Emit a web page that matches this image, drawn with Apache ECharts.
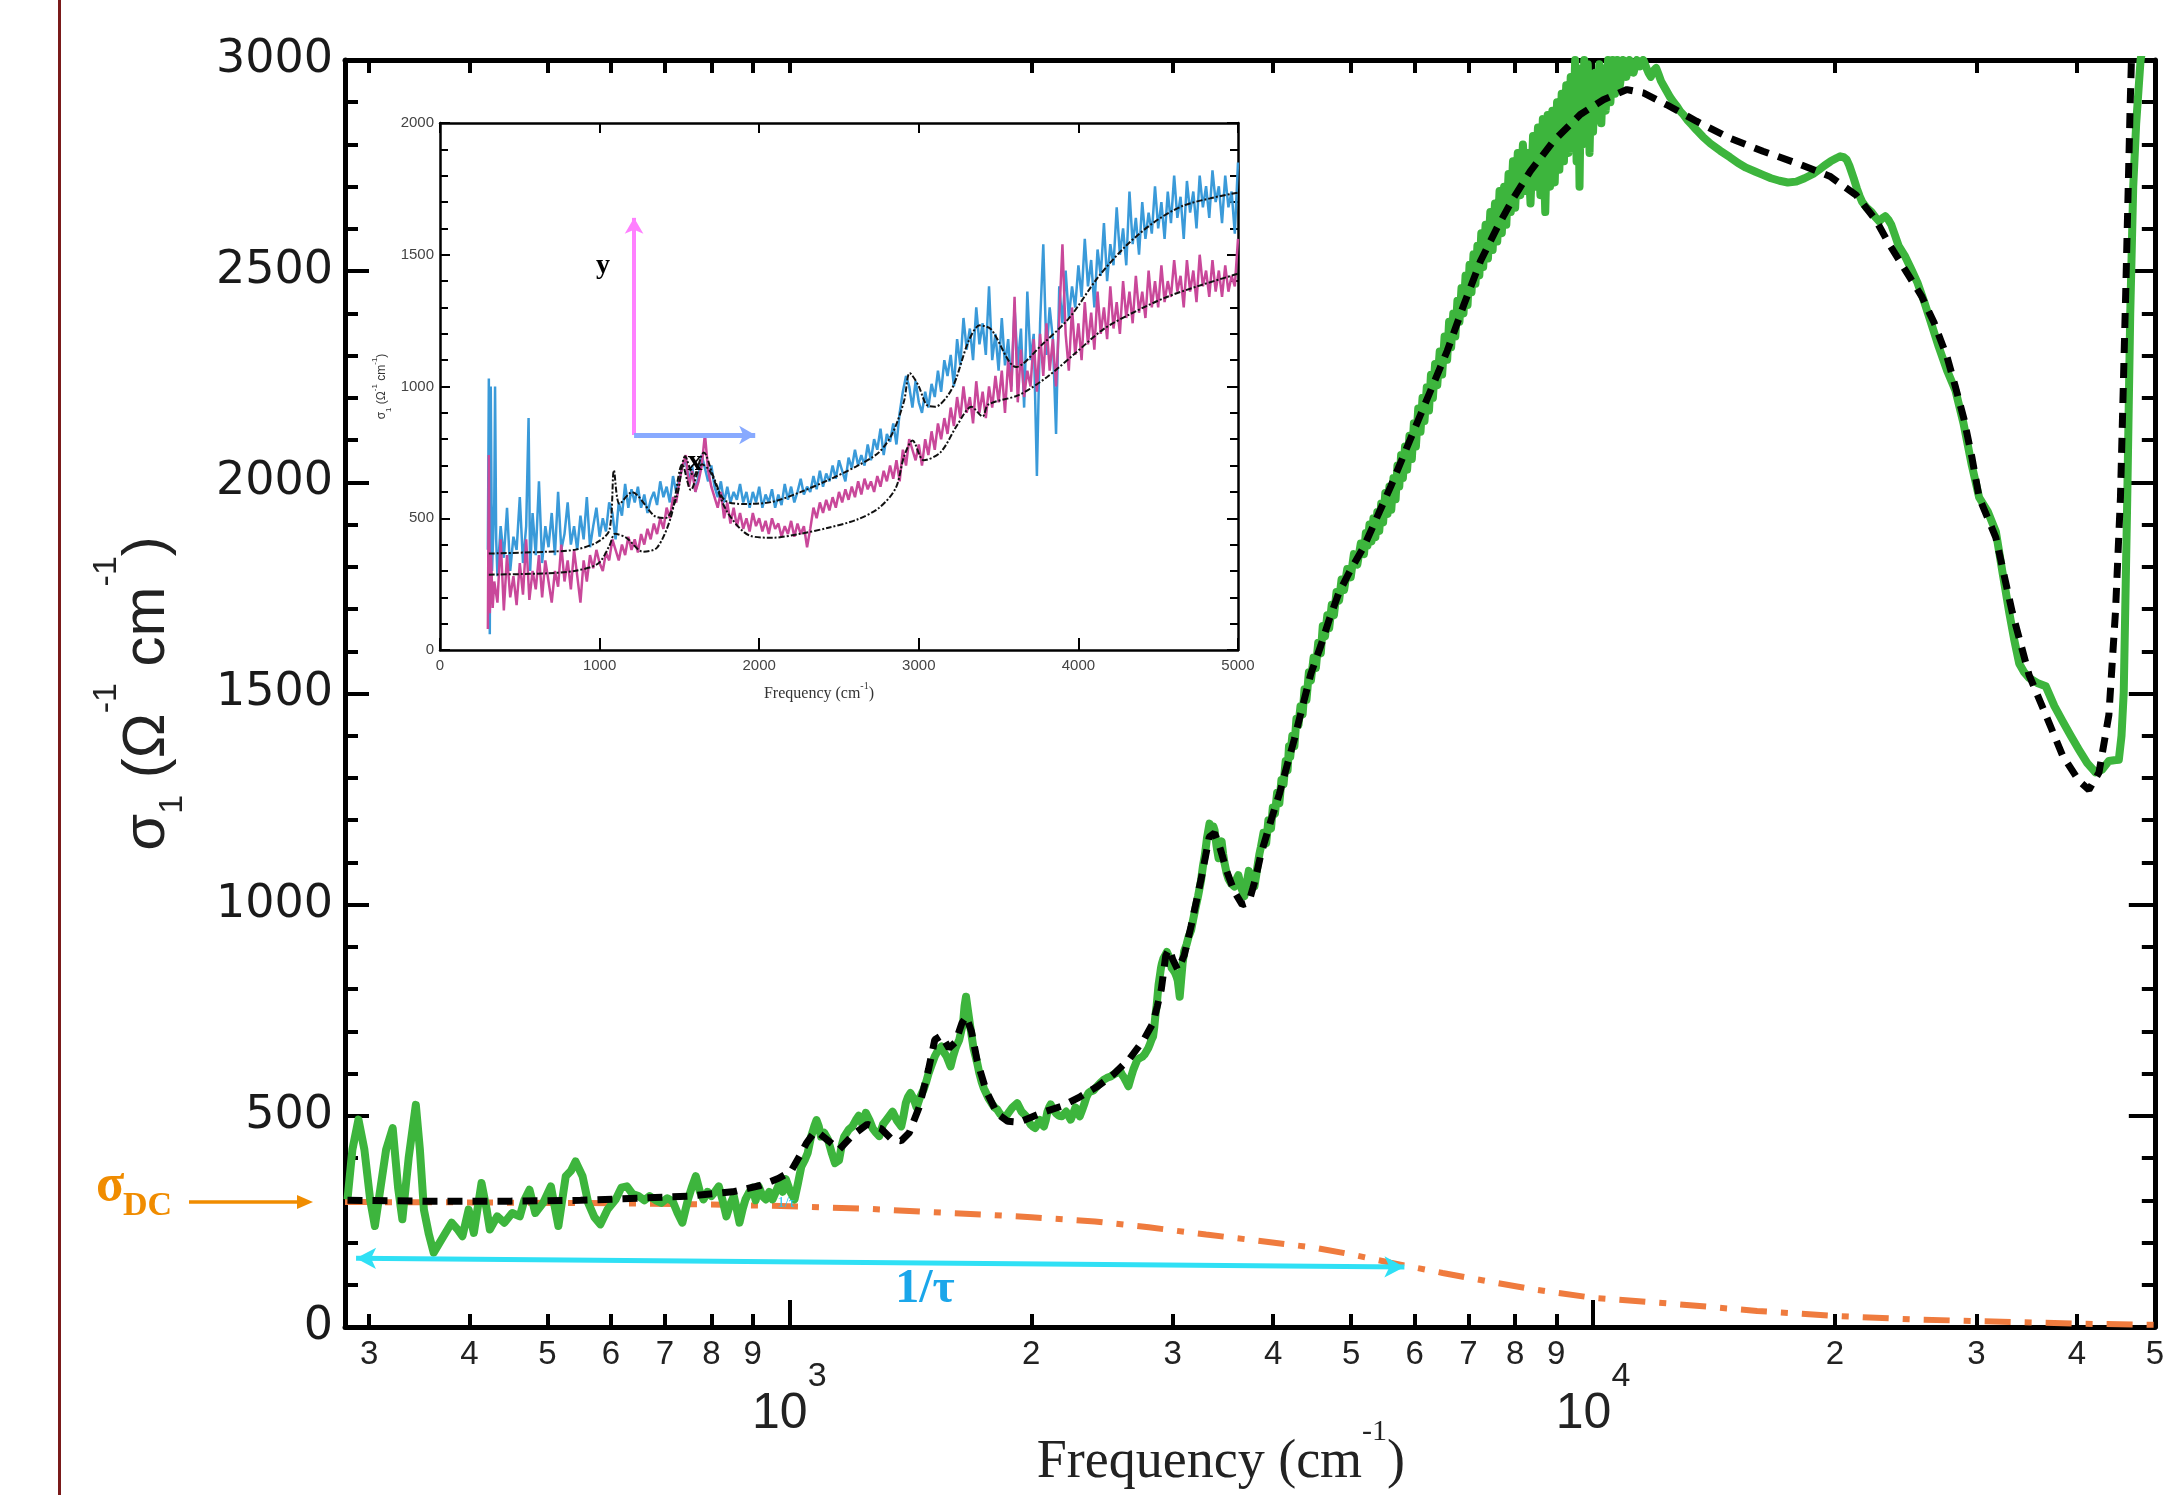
<!DOCTYPE html>
<html><head><meta charset="utf-8">
<script src="https://cdn.jsdelivr.net/npm/echarts@6/dist/echarts.min.js"></script>
<style>html,body{margin:0;padding:0;background:#fff}#c{width:2167px;height:1495px}</style>
</head><body><div id="c"></div>
<script>
// ---------------- DATA ----------------
const freqMin = 280, freqMax = 50000;
const xMinorTicks = [300,400,500,600,700,800,900,2000,3000,4000,5000,6000,7000,8000,9000,20000,30000,40000,50000];
const xMajorTicks = [1000,10000];
const yMainMax = 3000, yMainStep = 500;

// measured sigma_1 (green), [frequency cm^-1, sigma]
const measuredSigma = [[282,302],[286,420],[291,491],[296,420],[301,300],[305,239],[310,330],[315,420],[321,471],[326,330],[330,255],[336,400],[343,526],[347,420],[351,278],[356,220],[361,176],[370,210],[380,247],[387,230],[392,215],[399,278],[405,223],[414,341],[420,280],[424,231],[433,262],[442,247],[452,270],[462,262],[468,300],[475,325],[483,270],[494,294],[505,333],[516,239],[527,357],[535,370],[542,392],[553,357],[562,294],[572,260],[582,243],[594,278],[608,302],[618,330],[628,333],[638,315],[649,310],[660,300],[670,310],[682,300],[693,294],[705,305],[716,298],[726,270],[736,247],[748,302],[756,330],[765,357],[774,320],[782,302],[791,320],[800,310],[808,320],[817,333],[826,300],[835,262],[844,290],[853,310],[860,280],[867,247],[875,280],[882,302],[892,320],[900,330],[908,300],[916,333],[926,310],[935,302],[944,320],[953,302],[962,320],[972,340],[981,320],[990,350],[1003,320],[1015,302],[1025,340],[1035,380],[1045,395],[1054,412],[1064,450],[1074,475],[1081,490],[1088,475],[1095,451],[1105,460],[1117,444],[1130,410],[1140,388],[1153,395],[1162,430],[1170,450],[1185,467],[1198,475],[1210,490],[1220,500],[1233,480],[1245,507],[1258,490],[1270,470],[1282,460],[1294,452],[1308,480],[1320,490],[1332,500],[1344,510],[1360,490],[1378,475],[1387,500],[1396,530],[1405,545],[1415,554],[1428,540],[1440,520],[1455,545],[1469,562],[1480,580],[1490,600],[1503,620],[1517,641],[1531,655],[1546,664],[1558,650],[1570,640],[1587,617],[1598,640],[1610,660],[1627,680],[1636,700],[1645,720],[1652,760],[1659,782],[1668,750],[1679,712],[1695,660],[1713,625],[1724,600],[1735,580],[1746,565],[1757,554],[1771,540],[1785,530],[1800,520],[1814,515],[1828,505],[1840,500],[1856,495],[1873,507],[1895,520],[1921,530],[1945,510],[1971,499],[1983,490],[1995,480],[2008,475],[2022,471],[2036,480],[2050,490],[2062,480],[2074,475],[2085,490],[2095,510],[2105,520],[2114,527],[2130,515],[2150,505],[2165,500],[2183,499],[2198,505],[2210,510],[2225,500],[2239,491],[2255,505],[2270,520],[2284,510],[2298,499],[2315,515],[2330,530],[2343,545],[2356,554],[2372,558],[2390,560],[2404,566],[2416,570],[2437,578],[2460,585],[2485,590],[2511,593],[2528,597],[2545,600],[2560,605],[2576,609],[2593,598],[2610,590],[2626,580],[2642,570],[2660,590],[2680,610],[2696,622],[2711,633],[2730,637],[2750,640],[2766,645],[2781,649],[2796,660],[2810,670],[2822,680],[2835,688],[2845,710],[2855,740],[2864,760],[2871,782],[2880,810],[2890,830],[2900,850],[2908,861],[2920,872],[2935,880],[2950,888],[2964,892],[2978,870],[2990,850],[3005,845],[3020,838],[3032,830],[3043,820],[3052,800],[3060,782],[3072,820],[3085,860],[3100,890],[3120,905],[3140,925],[3162,940],[3180,965],[3200,990],[3225,1020],[3253,1058],[3270,1090],[3290,1120],[3310,1160],[3333,1192],[3345,1180],[3360,1170],[3370,1185],[3381,1177],[3400,1140],[3420,1110],[3435,1130],[3450,1150],[3465,1120],[3478,1100],[3500,1075],[3520,1060],[3545,1050],[3579,1043],[3600,1060],[3620,1070],[3650,1040],[3683,1020],[3705,1050],[3730,1080],[3760,1055],[3790,1043],[3810,1070],[3830,1100],[3845,1120],[3862,1137],[3890,1170],[3920,1145],[3945,1200],[3975,1180],[3995,1230],[4020,1215],[4045,1265],[4071,1240],[4095,1295],[4120,1285],[4145,1340],[4168,1318],[4185,1375],[4200,1350],[4225,1400],[4250,1375],[4275,1440],[4300,1425],[4325,1470],[4351,1450],[4375,1510],[4400,1485],[4430,1550],[4456,1530],[4490,1585],[4520,1560],[4550,1620],[4584,1595],[4610,1660],[4640,1635],[4670,1685],[4696,1655],[4730,1710],[4760,1685],[4795,1740],[4831,1720],[4865,1770],[4900,1745],[4945,1795],[4994,1775],[5040,1830],[5090,1805],[5140,1855],[5188,1830],[5215,1880],[5240,1850],[5270,1900],[5300,1860],[5330,1915],[5360,1870],[5390,1930],[5420,1885],[5450,1950],[5480,1905],[5515,1975],[5550,1925],[5580,1990],[5610,1935],[5645,2010],[5680,1960],[5710,2040],[5740,1990],[5770,2065],[5800,2010],[5835,2085],[5870,2030],[5910,2110],[5950,2055],[5985,2140],[6020,2085],[6060,2175],[6100,2120],[6135,2200],[6170,2145],[6210,2225],[6250,2170],[6285,2255],[6320,2200],[6360,2280],[6400,2230],[6445,2310],[6490,2255],[6535,2345],[6584,2290],[6620,2380],[6660,2320],[6700,2400],[6740,2345],[6780,2430],[6820,2380],[6860,2460],[6900,2400],[6940,2490],[6980,2420],[7020,2515],[7060,2450],[7100,2540],[7140,2470],[7180,2560],[7220,2490],[7260,2590],[7300,2510],[7350,2610],[7400,2530],[7450,2640],[7500,2550],[7550,2660],[7600,2570],[7650,2690],[7700,2590],[7750,2700],[7800,2610],[7850,2730],[7900,2640],[7950,2760],[8000,2650],[8060,2780],[8120,2680],[8180,2800],[8240,2690],[8300,2780],[8360,2660],[8420,2820],[8480,2700],[8540,2840],[8600,2680],[8660,2860],[8720,2640],[8780,2870],[8840,2700],[8900,2880],[8960,2710],[9020,2900],[9080,2740],[9140,2920],[9200,2760],[9260,2940],[9320,2780],[9380,2960],[9440,2800],[9500,3000],[9540,2760],[9580,2980],[9620,2700],[9660,2950],[9700,2800],[9750,3000],[9800,2820],[9850,2990],[9900,2780],[9950,2960],[10000,2830],[10060,2970],[10120,2860],[10180,2990],[10240,2850],[10300,2980],[10370,2880],[10440,3000],[10510,2900],[10580,3000],[10650,2920],[10720,3000],[10800,2940],[10900,3000],[11000,2960],[11100,3000],[11230,2970],[11340,3000],[11450,2985],[11550,3000],[11660,2980],[11720,2970],[11800,2960],[11900,2975],[11980,2981],[12070,2965],[12150,2950],[12250,2938],[12350,2926],[12470,2912],[12600,2900],[12720,2890],[12830,2879],[12960,2870],[13100,2858],[13280,2846],[13450,2834],[13700,2818],[14000,2802],[14400,2785],[14800,2770],[15150,2756],[15500,2745],[15900,2736],[16270,2728],[16650,2720],[17060,2714],[17470,2710],[17900,2712],[18330,2720],[18780,2730],[19100,2740],[19400,2750],[19750,2760],[20100,2768],[20300,2772],[20500,2770],[20680,2764],[20840,2750],[21100,2720],[21300,2695],[21460,2678],[21620,2664],[21900,2650],[22200,2640],[22450,2628],[22700,2618],[22900,2625],[23100,2630],[23300,2622],[23500,2610],[23750,2585],[24000,2560],[24420,2537],[24880,2505],[25330,2473],[25800,2430],[26260,2385],[26920,2321],[27570,2265],[28250,2217],[28900,2140],[29600,2040],[30230,1964],[31000,1930],[31710,1883],[32300,1790],[32940,1693],[33400,1630],[33900,1571],[34400,1550],[34870,1537],[35700,1525],[36590,1517],[37500,1470],[38370,1435],[39300,1400],[40230,1367],[41200,1335],[42200,1313],[43000,1320],[43830,1340],[44500,1342],[45100,1343],[45450,1400],[45740,1503],[46000,1760],[46200,1960],[46600,2400],[47000,2700],[47400,2850],[48000,3000],[49500,3150]];

// model fit (black dashed)
const fitSigma = [[282,300],[350,298],[450,298],[550,300],[650,305],[750,310],[850,320],[920,335],[970,352],[1005,369],[1030,405],[1050,435],[1075,462],[1090,458],[1120,440],[1153,420],[1200,455],[1250,480],[1300,470],[1340,445],[1378,441],[1410,460],[1450,520],[1490,610],[1517,680],[1546,690],[1580,660],[1610,675],[1640,720],[1660,735],[1685,700],[1713,630],[1757,560],[1814,505],[1870,487],[1930,485],[1990,495],[2080,510],[2183,523],[2300,545],[2420,570],[2530,598],[2650,635],[2760,680],[2835,720],[2870,760],[2903,800],[2940,880],[2970,895],[3000,870],[3043,846],[3100,880],[3162,950],[3253,1060],[3330,1160],[3381,1170],[3440,1130],[3500,1080],[3580,1030],[3660,1000],[3730,1005],[3800,1060],[3862,1120],[3975,1200],[4071,1262],[4168,1334],[4250,1392],[4351,1470],[4456,1547],[4584,1613],[4696,1675],[4831,1740],[4994,1793],[5188,1848],[5600,1990],[6100,2160],[6584,2311],[6908,2421],[7244,2524],[7597,2603],[7965,2674],[8356,2737],[8931,2808],[9640,2871],[10300,2906],[11020,2930],[11550,2922],[12350,2894],[13450,2855],[14800,2815],[16270,2784],[17900,2756],[19700,2725],[21250,2680],[22500,2620],[23260,2570],[24420,2505],[25630,2441],[26580,2377],[27570,2297],[28250,2225],[28940,2150],[29600,2060],[30230,1964],[31710,1869],[33230,1693],[34870,1544],[36590,1449],[38370,1354],[40230,1293],[41400,1272],[42610,1313],[43830,1449],[44670,1693],[45310,1964],[46000,2450],[46600,2900],[47000,3150]];

// Drude term (orange dash-dot)
const drudeSigma = [[280,296],[400,295],[600,293],[800,290],[1000,286],[1250,280],[1500,272],[1750,266],[2000,260],[2400,250],[2800,236],[3300,219],[3800,205],[4500,188],[5000,172],[5600,152],[6500,128],[7500,106],[8500,88],[10000,69],[12750,54],[16000,38],[20000,26],[25000,18],[30000,14],[40000,8],[50000,5]];

// inset: y-polarisation (blue), x-polarisation (pink), and fits
const insetBlue = [[300,380],[306,1030],[312,60],[318,1000],[326,300],[340,560],[345,1000],[352,420],[360,280],[380,470],[400,350],[420,540],[440,300],[460,430],[480,380],[500,580],[520,330],[540,470],[555,880],[565,300],[580,520],[600,360],[620,640],[640,330],[660,470],[680,390],[700,520],[720,360],[740,600],[760,380],[780,440],[800,560],[820,400],[840,470],[860,380],[880,510],[900,420],[920,580],[940,390],[960,470],[980,540],[1000,430],[1020,500],[1040,450],[1060,560],[1080,520],[1100,420],[1120,560],[1140,510],[1160,630],[1180,540],[1200,610],[1220,560],[1240,620],[1260,540],[1280,590],[1300,520],[1320,570],[1340,600],[1360,550],[1380,640],[1400,580],[1420,620],[1440,560],[1460,660],[1480,600],[1500,650],[1520,700],[1540,720],[1560,640],[1580,700],[1600,600],[1620,660],[1640,740],[1660,690],[1680,640],[1700,700],[1720,620],[1740,580],[1760,640],[1780,560],[1800,620],[1820,560],[1840,600],[1860,570],[1880,630],[1900,560],[1920,600],[1940,540],[1960,600],[1980,560],[2000,620],[2020,540],[2040,590],[2060,560],[2080,610],[2100,540],[2120,590],[2140,550],[2160,630],[2180,570],[2200,620],[2220,560],[2240,600],[2260,650],[2280,590],[2300,620],[2320,600],[2340,660],[2360,610],[2380,680],[2400,620],[2420,670],[2440,640],[2460,700],[2480,650],[2500,720],[2520,680],[2540,640],[2560,730],[2580,690],[2600,760],[2620,700],[2640,740],[2660,700],[2680,780],[2700,720],[2720,800],[2740,760],[2760,840],[2780,740],[2800,820],[2820,790],[2840,860],[2860,780],[2880,900],[2900,980],[2920,1040],[2940,1000],[2960,920],[2980,1020],[3000,940],[3020,900],[3040,980],[3060,920],[3080,1010],[3100,960],[3120,1060],[3140,980],[3160,1100],[3180,1040],[3200,1120],[3220,1000],[3240,1180],[3260,1080],[3280,1260],[3300,1140],[3320,1220],[3340,1100],[3360,1300],[3380,1160],[3400,1240],[3420,1120],[3440,1380],[3460,1100],[3480,1200],[3500,1060],[3520,1260],[3540,1080],[3560,1180],[3580,1000],[3600,1300],[3620,1080],[3640,1220],[3660,920],[3680,1360],[3700,1100],[3720,1200],[3740,660],[3760,1240],[3780,1540],[3800,1120],[3820,1300],[3840,1180],[3860,820],[3880,1380],[3900,1240],[3920,1440],[3940,1260],[3960,1380],[3980,1300],[4000,1460],[4020,1340],[4040,1560],[4060,1380],[4080,1480],[4100,1300],[4120,1520],[4140,1420],[4160,1620],[4180,1400],[4200,1540],[4220,1460],[4240,1680],[4260,1500],[4280,1600],[4300,1460],[4320,1740],[4340,1540],[4360,1640],[4380,1500],[4400,1700],[4420,1560],[4440,1660],[4460,1580],[4480,1760],[4500,1600],[4520,1700],[4540,1560],[4560,1740],[4580,1620],[4600,1800],[4620,1640],[4640,1720],[4660,1560],[4680,1780],[4700,1660],[4720,1740],[4740,1600],[4760,1800],[4780,1680],[4800,1760],[4820,1640],[4840,1820],[4860,1700],[4880,1760],[4900,1620],[4920,1800],[4940,1680],[4960,1740],[4980,1580],[5000,1850]];

const insetPink = [[300,80],[306,740],[312,140],[320,360],[330,160],[340,260],[360,180],[380,420],[400,150],[420,360],[440,200],[460,280],[480,170],[500,330],[520,210],[540,420],[560,190],[580,300],[600,230],[620,360],[640,200],[660,340],[680,260],[700,180],[720,300],[740,240],[760,400],[780,260],[800,340],[820,230],[840,380],[860,280],[880,180],[900,340],[920,260],[940,360],[960,310],[980,380],[1000,330],[1020,300],[1040,370],[1060,340],[1080,420],[1100,380],[1120,340],[1140,400],[1160,360],[1180,430],[1200,380],[1220,420],[1240,370],[1260,440],[1280,400],[1300,460],[1320,420],[1340,480],[1360,440],[1380,500],[1400,460],[1420,540],[1440,500],[1460,580],[1480,560],[1500,640],[1520,700],[1540,740],[1560,620],[1580,680],[1600,600],[1620,640],[1640,700],[1660,820],[1680,680],[1700,620],[1720,580],[1740,540],[1760,600],[1780,500],[1800,560],[1820,480],[1840,540],[1860,470],[1880,520],[1900,460],[1920,500],[1940,450],[1960,520],[1980,470],[2000,500],[2020,450],[2040,490],[2060,440],[2080,500],[2100,460],[2120,480],[2140,430],[2160,470],[2180,440],[2200,490],[2220,430],[2240,480],[2260,440],[2280,470],[2300,390],[2320,460],[2340,540],[2360,500],[2380,560],[2400,520],[2420,570],[2440,530],[2460,580],[2480,540],[2500,600],[2520,560],[2540,610],[2560,570],[2580,620],[2600,580],[2620,640],[2640,590],[2660,650],[2680,610],[2700,640],[2720,600],[2740,660],[2760,620],[2780,680],[2800,640],[2820,700],[2840,650],[2860,720],[2880,640],[2900,760],[2920,700],[2940,800],[2960,760],[2980,720],[3000,780],[3020,700],[3040,800],[3060,740],[3080,830],[3100,760],[3120,860],[3140,800],[3160,880],[3180,820],[3200,920],[3220,850],[3240,960],[3260,880],[3280,1000],[3300,900],[3320,960],[3340,860],[3360,1020],[3380,900],[3400,980],[3420,880],[3440,1000],[3460,920],[3480,1040],[3500,940],[3520,1060],[3540,900],[3560,1100],[3580,980],[3600,1340],[3620,940],[3640,1140],[3660,960],[3680,1060],[3700,1000],[3720,1180],[3740,980],[3760,1200],[3780,1040],[3800,1240],[3820,1060],[3840,1180],[3860,1000],[3880,1260],[3900,1540],[3920,1200],[3940,1060],[3960,1300],[3980,1120],[4000,1240],[4020,1100],[4040,1320],[4060,1160],[4080,1280],[4100,1140],[4120,1360],[4140,1200],[4160,1300],[4180,1180],[4200,1380],[4220,1220],[4240,1320],[4260,1200],[4280,1400],[4300,1260],[4320,1360],[4340,1240],[4360,1420],[4380,1280],[4400,1360],[4420,1260],[4440,1440],[4460,1300],[4480,1400],[4500,1300],[4520,1460],[4540,1320],[4560,1400],[4580,1340],[4600,1480],[4620,1360],[4640,1420],[4660,1300],[4680,1480],[4700,1360],[4720,1440],[4740,1320],[4760,1500],[4780,1380],[4800,1440],[4820,1340],[4840,1480],[4860,1360],[4880,1440],[4900,1340],[4920,1460],[4940,1360],[4960,1420],[4980,1380],[5000,1560]];

const insetBlueFit = [[306,366],[675,373],[851,381],[991,411],[1062,456],[1090,682],[1125,554],[1202,599],[1343,509],[1413,501],[1484,584],[1536,735],[1589,660],[1653,750],[1712,660],[1783,569],[1906,554],[2081,562],[2257,599],[2433,645],[2609,697],[2750,750],[2837,825],[2908,946],[2943,1051],[2996,1006],[3048,931],[3101,923],[3207,991],[3312,1172],[3382,1232],[3453,1217],[3611,1074],[3769,1157],[3945,1262],[4121,1413],[4297,1533],[4473,1623],[4648,1684],[4824,1714],[5000,1736]];

const insetPinkFit = [[306,286],[675,291],[851,301],[991,328],[1062,396],[1097,441],[1167,426],[1273,373],[1361,389],[1449,509],[1519,705],[1572,607],[1642,705],[1695,675],[1800,524],[1941,434],[2081,426],[2257,441],[2433,464],[2609,494],[2750,539],[2855,614],[2908,735],[2961,795],[3031,720],[3136,750],[3242,855],[3330,923],[3400,886],[3435,931],[3628,968],[3804,1036],[3980,1126],[4156,1217],[4332,1277],[4543,1337],[4754,1382],[5000,1428]];

// ---------------- CHART ----------------
const L10 = Math.log10;
const sansNarrow = "'Liberation Sans Narrow','Arial Narrow','Liberation Sans',sans-serif";
const sans = "'Liberation Sans',Arial,sans-serif";
const serif = "'Liberation Serif','Times New Roman',serif";
const black = '#000';
const plain = v => String(v);

const chart = echarts.init(document.getElementById('c'), null, {renderer: 'canvas'});

const mainGrid = {left: 345, top: 60, right: 8, bottom: 164};
const insetGrid = {left: 440, top: 123, width: 798, height: 527};

const logRangeAxis = (extra) => Object.assign({
  type: 'value', gridIndex: 0, min: L10(freqMin), max: L10(freqMax),
  splitLine: {show: false}
}, extra);

const option = {
  animation: false,
  backgroundColor: '#fff',
  grid: [mainGrid, insetGrid],
  xAxis: [
    // 0: the real logarithmic frequency axis carrying the data
    {type: 'log', logBase: 10, gridIndex: 0, min: freqMin, max: freqMax, show: false},
    // 1: bottom axis line, minor ticks and digit labels
    logRangeAxis({
      position: 'bottom',
      axisLine: {show: true, onZero: false, lineStyle: {color: black, width: 5}},
      axisTick: {show: true, inside: true, length: 13, lineStyle: {color: black, width: 4}, customValues: xMinorTicks.map(L10)},
      axisLabel: {show: true, customValues: xMinorTicks.map(L10), margin: 11,
        fontFamily: sansNarrow, fontSize: 33, color: '#222',
        formatter: v => String(Math.round(Math.pow(10, v) / Math.pow(10, Math.floor(v + 1e-9))))},
      name: '{t|Frequency (cm}{s|-1}{t|)}',
      nameLocation: 'middle', nameGap: 90,
      nameTextStyle: {padding: [0, 58, 0, 0], rich: {
        t: {fontFamily: serif, fontSize: 54, lineHeight: 92, color: '#222'},
        s: {fontFamily: serif, fontSize: 30, verticalAlign: 'top', color: '#222'}
      }}
    }),
    // 2: decade ticks and 10^n labels
    logRangeAxis({
      position: 'bottom',
      axisLine: {show: false, onZero: false},
      axisTick: {show: true, inside: true, length: 27, lineStyle: {color: black, width: 4}, customValues: xMajorTicks.map(L10)},
      axisLabel: {show: true, customValues: xMajorTicks.map(L10), margin: 33,
        formatter: v => '{b|10}{s|' + Math.round(v) + '}',
        rich: {
          b: {fontFamily: sans, fontSize: 50, padding: [29, 0, 0, 0], color: '#222'},
          s: {fontFamily: sans, fontSize: 34, verticalAlign: 'top', color: '#222'}
        }}
    }),
    // 3: top frame axis
    logRangeAxis({
      position: 'top',
      axisLine: {show: true, onZero: false, lineStyle: {color: black, width: 5}},
      axisTick: {show: true, inside: true, length: 13, lineStyle: {color: black, width: 4}, customValues: xMinorTicks.concat(xMajorTicks).map(L10)},
      axisLabel: {show: false}
    }),
    // 4: inset bottom
    {type: 'value', gridIndex: 1, min: 0, max: 5000, interval: 1000, position: 'bottom',
      axisLine: {show: true, onZero: false, lineStyle: {color: black, width: 2.5}},
      axisTick: {show: true, inside: true, length: 12, lineStyle: {color: black, width: 2}},
      axisLabel: {show: true, margin: 8, fontFamily: sans, fontSize: 15, color: '#444', formatter: plain},
      splitLine: {show: false},
      name: '{t|Frequency (cm}{s|-1}{t|)}', nameLocation: 'middle', nameGap: 31,
      nameTextStyle: {padding: [0, 40, 0, 0], rich: {
        t: {fontFamily: serif, fontSize: 16, lineHeight: 26, color: '#333'},
        s: {fontFamily: serif, fontSize: 10, verticalAlign: 'top', color: '#333'}
      }}
    },
    // 5: inset top
    {type: 'value', gridIndex: 1, min: 0, max: 5000, interval: 1000, position: 'top',
      axisLine: {show: true, onZero: false, lineStyle: {color: black, width: 2.5}},
      axisTick: {show: true, inside: true, length: 10, lineStyle: {color: black, width: 2}},
      axisLabel: {show: false}, splitLine: {show: false}}
  ],
  yAxis: [
    {type: 'value', gridIndex: 0, min: 0, max: yMainMax, interval: yMainStep, position: 'left',
      axisLine: {show: true, onZero: false, lineStyle: {color: black, width: 5}},
      axisTick: {show: true, inside: true, length: 24, lineStyle: {color: black, width: 4}},
      minorTick: {show: true, splitNumber: 5, length: 13, lineStyle: {color: black, width: 4}},
      axisLabel: {show: true, margin: 12, fontFamily: "'DejaVu Sans',sans-serif", fontSize: 46, color: '#1a1a1a', formatter: plain},
      splitLine: {show: false},
      name: '{m|σ}{sub|1}{m| (Ω}{sup|-1}{m| cm}{sup|-1}{m|)}',
      nameLocation: 'middle', nameRotate: 90, nameGap: 141,
      nameTextStyle: {rich: {
        m: {fontFamily: sans, fontSize: 60, lineHeight: 114, color: '#222'},
        sup: {fontFamily: sans, fontSize: 34, verticalAlign: 'top', color: '#222'},
        sub: {fontFamily: sans, fontSize: 34, verticalAlign: 'bottom', padding: [0, 0, 14, 0], color: '#222'}
      }}
    },
    {type: 'value', gridIndex: 0, min: 0, max: yMainMax, interval: yMainStep, position: 'right',
      axisLine: {show: true, onZero: false, lineStyle: {color: black, width: 5}},
      axisTick: {show: true, inside: true, length: 26, lineStyle: {color: black, width: 4}},
      minorTick: {show: true, splitNumber: 5, length: 13, lineStyle: {color: black, width: 4}},
      axisLabel: {show: false}, splitLine: {show: false}},
    {type: 'value', gridIndex: 1, min: 0, max: 2000, interval: 500, position: 'left',
      axisLine: {show: true, onZero: false, lineStyle: {color: black, width: 2.5}},
      axisTick: {show: true, inside: true, length: 10, lineStyle: {color: black, width: 2}},
      minorTick: {show: true, splitNumber: 5, length: 8, lineStyle: {color: black, width: 2}},
      axisLabel: {show: true, margin: 6, fontFamily: sans, fontSize: 15, color: '#444', formatter: plain},
      splitLine: {show: false},
      name: '{m|σ}{sub|1}{m| (Ω}{sup|-1}{m| cm}{sup|-1}{m|)}',
      nameLocation: 'middle', nameRotate: 90, nameGap: 47,
      nameTextStyle: {rich: {
        m: {fontFamily: sans, fontSize: 12, lineHeight: 22, color: '#333'},
        sup: {fontFamily: sans, fontSize: 8, verticalAlign: 'top', color: '#333'},
        sub: {fontFamily: sans, fontSize: 8, verticalAlign: 'bottom', color: '#333'}
      }}
    },
    {type: 'value', gridIndex: 1, min: 0, max: 2000, interval: 500, position: 'right',
      axisLine: {show: true, onZero: false, lineStyle: {color: black, width: 2.5}},
      axisTick: {show: true, inside: true, length: 11, lineStyle: {color: black, width: 2}},
      minorTick: {show: true, splitNumber: 5, length: 8, lineStyle: {color: black, width: 2}},
      axisLabel: {show: false}, splitLine: {show: false}}
  ],
  series: [
    {name: 'Drude', type: 'line', xAxisIndex: 0, yAxisIndex: 0, data: drudeSigma, showSymbol: false, symbol: 'none', z: 2,
      lineStyle: {color: '#ef7b3e', width: 6, type: [26, 14, 7, 14], cap: 'butt'}},
    {name: 'measured', type: 'line', xAxisIndex: 0, yAxisIndex: 0, data: measuredSigma, showSymbol: false, symbol: 'none', z: 3,
      lineStyle: {color: '#3db53d', width: 8, join: 'round'},
      markLine: {silent: true, animation: false, symbol: ['arrow', 'arrow'], symbolSize: [16, 20], label: {show: false},
        lineStyle: {color: '#2fe0f5', width: 5, type: 'solid'}, itemStyle: {color: '#2fe0f5'},
        data: [[{coord: [289, 163]}, {coord: [5825, 142]}]]}},
    {name: 'fit', type: 'line', xAxisIndex: 0, yAxisIndex: 0, data: fitSigma, showSymbol: false, symbol: 'none', z: 4,
      lineStyle: {color: '#000', width: 7, type: [15, 10], cap: 'butt'}},
    {name: 'inset y', type: 'line', xAxisIndex: 4, yAxisIndex: 2, data: insetBlue, showSymbol: false, symbol: 'none', z: 2,
      lineStyle: {color: '#3a9ad9', width: 2.5}},
    {name: 'inset x', type: 'line', xAxisIndex: 4, yAxisIndex: 2, data: insetPink, showSymbol: false, symbol: 'none', z: 3,
      lineStyle: {color: '#c9489a', width: 2.5}},
    {name: 'inset y fit', type: 'line', xAxisIndex: 4, yAxisIndex: 2, data: insetBlueFit, showSymbol: false, symbol: 'none', z: 4, smooth: 0.3,
      lineStyle: {color: '#111', width: 2, type: [6, 2, 2, 2]}},
    {name: 'inset x fit', type: 'line', xAxisIndex: 4, yAxisIndex: 2, data: insetPinkFit, showSymbol: false, symbol: 'none', z: 4, smooth: 0.3,
      lineStyle: {color: '#111', width: 2, type: [6, 2, 2, 2]},
      markLine: {silent: true, animation: false, symbol: ['none', 'arrow'], symbolSize: [14, 16], label: {show: false},
        data: [
          [{coord: [1216, 816], lineStyle: {color: '#ff80ff', width: 4, type: 'solid'}, itemStyle: {color: '#ff80ff'}}, {coord: [1216, 1640]}],
          [{coord: [1216, 816], lineStyle: {color: '#88aaff', width: 5, type: 'solid'}, itemStyle: {color: '#88aaff'}}, {coord: [1975, 816]}]
        ]}}
  ],
  graphic: [
    {type: 'rect', z: 100, shape: {x: 58, y: 0, width: 3, height: 1495}, style: {fill: '#7a1a1a'}},
    {type: 'text', z: 100, x: 96, y: 1187, style: {text: 'σ', fontFamily: serif, fontWeight: 'bold', fontSize: 52, fill: '#f08c00', align: 'left', verticalAlign: 'middle'}},
    {type: 'text', z: 100, x: 123, y: 1206, style: {text: 'DC', fontFamily: serif, fontWeight: 'bold', fontSize: 34, fill: '#f08c00', align: 'left', verticalAlign: 'middle'}},
    {type: 'line', z: 100, shape: {x1: 189, y1: 1202, x2: 302, y2: 1202}, style: {stroke: '#f08c00', lineWidth: 3.5}},
    {type: 'polygon', z: 100, shape: {points: [[297, 1195], [313, 1202], [297, 1209]]}, style: {fill: '#f08c00'}},
    {type: 'text', z: 100, x: 925, y: 1290, style: {text: '1/τ', fontFamily: serif, fontWeight: 'bold', fontSize: 48, fill: '#1aa6ea', align: 'center', verticalAlign: 'middle'}},
    {type: 'text', z: 100, x: 786, y: 1203, style: {text: '1/τ', fontFamily: serif, fontSize: 15, fill: '#25c8f0', align: 'center', verticalAlign: 'middle'}},
    {type: 'text', z: 100, x: 603, y: 266, style: {text: 'y', fontFamily: serif, fontWeight: 'bold', fontSize: 28, fill: '#000', align: 'center', verticalAlign: 'middle'}},
    {type: 'text', z: 100, x: 695, y: 462, style: {text: 'x', fontFamily: serif, fontWeight: 'bold', fontSize: 30, fill: '#000', align: 'center', verticalAlign: 'middle'}}
  ]
};
chart.setOption(option);
</script>
</body></html>
